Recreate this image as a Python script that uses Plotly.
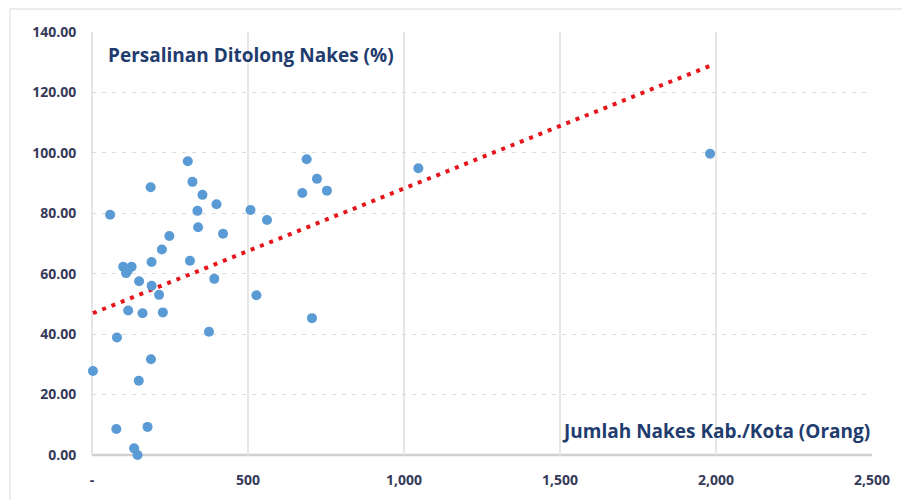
import plotly.graph_objects as go

# Data
nakes = [3, 58, 80, 78, 100, 109, 114, 127, 188, 307, 322, 354, 399, 338, 340, 420,
         248, 224, 191, 314, 151, 191, 215, 392, 508, 561, 527, 116, 162, 227,
         375, 189, 150, 178, 135, 146, 674, 688, 721, 753, 1046, 705, 1981]
persalinan = [27.8, 79.5, 38.9, 8.6, 62.3, 60.2, 61.0, 62.3, 88.6, 97.2, 90.4, 86.1, 83.0, 80.8, 75.4, 73.2,
              72.5, 68.0, 63.9, 64.3, 57.5, 56.0, 53.0, 58.3, 81.1, 77.8, 52.9, 47.8, 46.9, 47.2,
              40.8, 31.7, 24.6, 9.3, 2.2, 0.0, 86.7, 97.9, 91.4, 87.5, 94.9, 45.3, 99.7]

trend_intercept = 46.8
trend_slope = 0.0414

x_ticks = [0, 500, 1000, 1500, 2000, 2500]
x_tick_labels = ["-", "500", "1,000", "1,500", "2,000", "2,500"]
y_ticks = [0, 20, 40, 60, 80, 100, 120, 140]
y_tick_labels = ["%.2f" % v for v in y_ticks]

trend_x = [min(nakes), max(nakes)]
trend_y = [trend_intercept + trend_slope * v for v in trend_x]

fig = go.Figure()
fig.add_trace(go.Scatter(
    x=trend_x, y=trend_y, mode="lines",
    line=dict(color="#e8141c", width=4, dash="4px,6px"),
    hoverinfo="skip", showlegend=False,
))
fig.add_trace(go.Scatter(
    x=nakes, y=persalinan, mode="markers",
    marker=dict(color="#5b9bd5", size=10, line=dict(width=0)),
    cliponaxis=False, showlegend=False,
))

tick_font = dict(family="Open Sans, Noto Sans, sans-serif", size=14, color="#363a5a")
title_font = dict(family="Open Sans, Noto Sans, sans-serif", size=19, color="#1f3c6e")

L, T, W, H = 84, 24, 780, 423  # plot area in figure pixels

fig.update_layout(
    width=910, height=500,
    margin=dict(l=L, r=910 - L - W, t=T, b=500 - T - H),
    paper_bgcolor="white", plot_bgcolor="white",
    xaxis=dict(
        range=[0, 2500], tickvals=x_ticks, ticktext=["<b>%s</b>" % t for t in x_tick_labels],
        showgrid=True, gridcolor="#e6e6e6", gridwidth=1.5,
        zeroline=False, showline=False,
        tickfont=tick_font, ticks="outside", ticklen=12, tickcolor="rgba(0,0,0,0)",
    ),
    yaxis=dict(
        range=[0, 140], tickvals=y_ticks, ticktext=["<b>%s</b>" % t for t in y_tick_labels],
        showgrid=True, gridcolor="#dcdcdc", gridwidth=1, griddash="4px,6px",
        zeroline=False, showline=False,
        tickfont=tick_font, ticks="outside", ticklen=12, tickcolor="rgba(0,0,0,0)",
    ),
    shapes=[
        # axis lines
        dict(type="line", xref="paper", yref="paper", x0=0, x1=1, y0=0, y1=0,
             line=dict(color="#d0d0d0", width=2.5), layer="below"),
        dict(type="line", xref="paper", yref="paper", x0=0, x1=0, y0=0, y1=1,
             line=dict(color="#dcdcdc", width=1.5), layer="below"),
        # faint outer border (top and left)
        dict(type="line", xref="paper", yref="paper", x0=-(L - 2) / W, x1=(910 - L) / W,
             y0=1 + (T - 1) / H, y1=1 + (T - 1) / H, line=dict(color="#e6e6e6", width=1.5)),
        dict(type="line", xref="paper", yref="paper", x0=-(L - 2) / W, x1=-(L - 2) / W,
             y0=1 + (T - 1) / H, y1=-(500 - T - H) / H, line=dict(color="#e6e6e6", width=1.5)),
    ],
    annotations=[
        dict(text="<b>Persalinan Ditolong Nakes (%)</b>", xref="paper", yref="paper",
             x=14 / W, y=1 - 23 / H, xanchor="left", yanchor="middle", showarrow=False,
             font=title_font),
        dict(text="<b>Jumlah Nakes Kab./Kota (Orang)</b>", xref="paper", yref="paper",
             x=1, y=24 / H, xanchor="right", yanchor="middle", showarrow=False,
             font=title_font),
    ],
)

fig.write_html("out.html")
